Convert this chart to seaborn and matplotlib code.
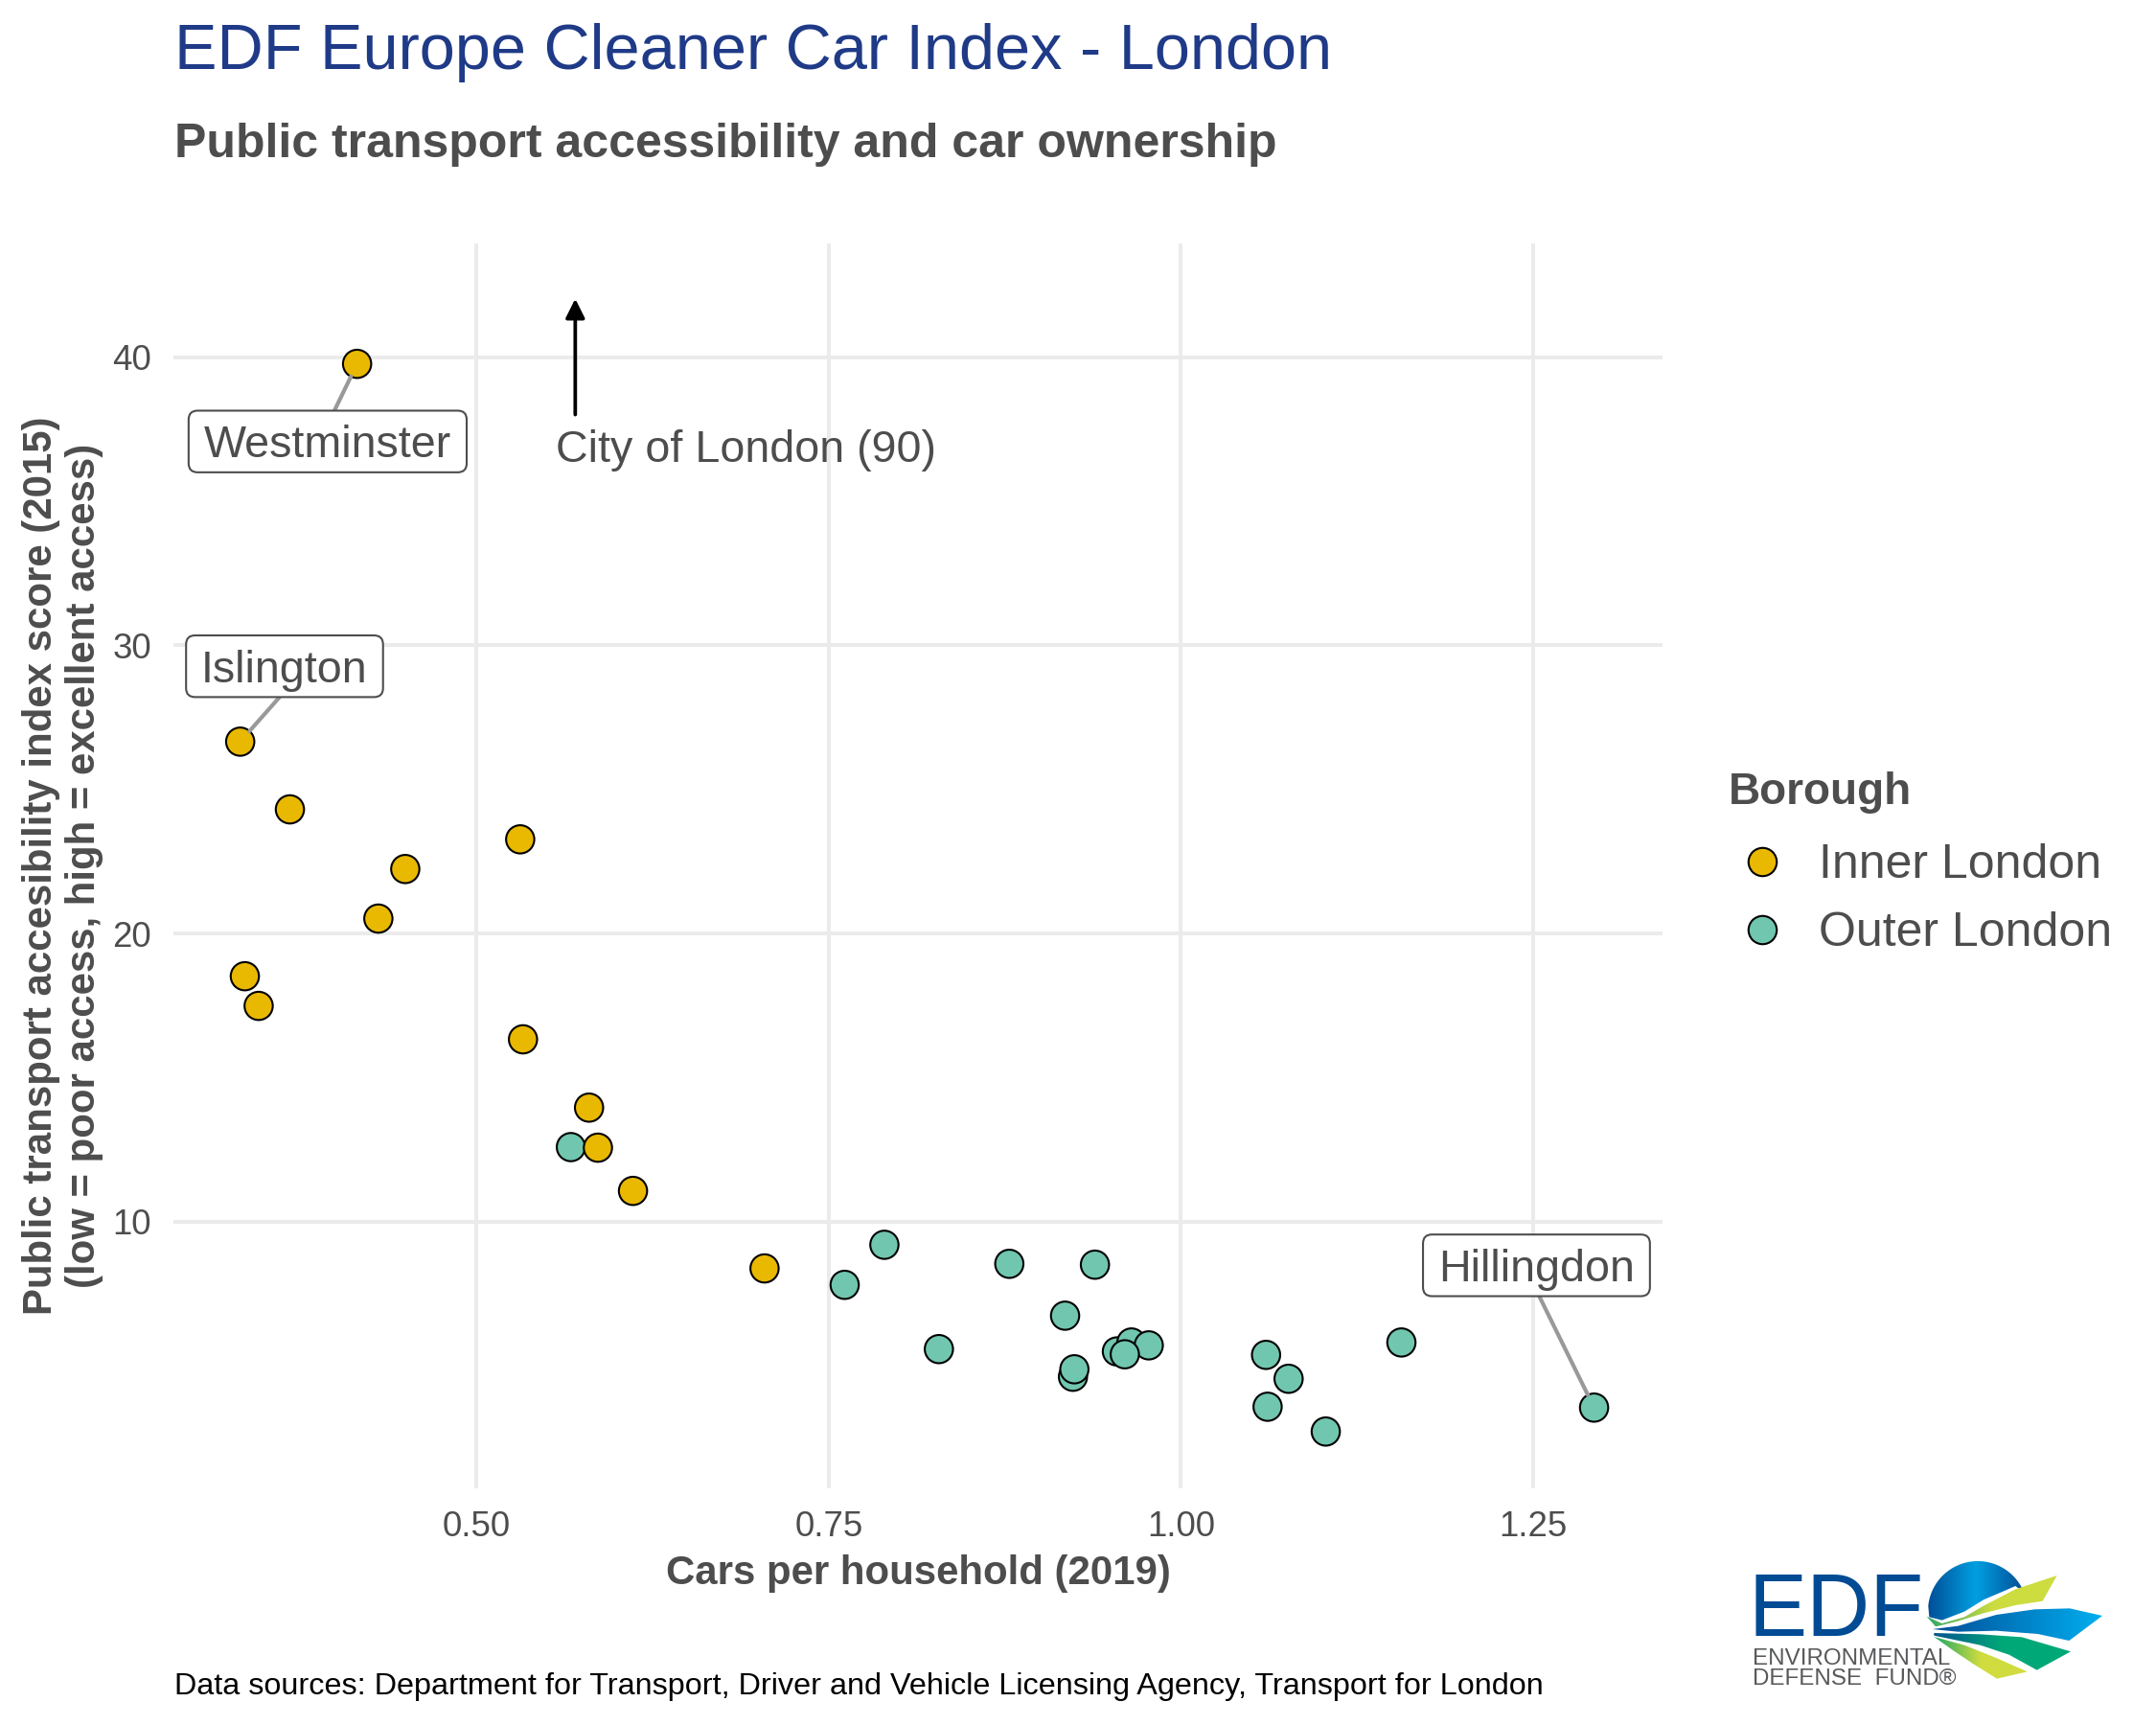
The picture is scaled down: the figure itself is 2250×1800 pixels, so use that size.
import matplotlib
matplotlib.use("Agg")
import matplotlib.pyplot as plt
import numpy as np
import pandas as pd
import seaborn as sns
from matplotlib.colors import LinearSegmentedColormap
from matplotlib.patches import BoxStyle, Polygon

# values
inner_x = [0.3674, 0.5309, 0.4493, 0.4302, 0.3354, 0.3452, 0.5329, 0.5798, 0.5861, 0.611, 0.7044, 0.4151, 0.3321]
inner_y = [24.31, 23.27, 22.24, 20.52, 18.52, 17.49, 16.33, 13.96, 12.57, 11.07, 8.38, 39.77, 26.66]
outer_x = [0.5669, 0.7895, 0.7613, 0.8782, 0.939, 0.9178, 0.9546, 0.9649, 0.9772, 0.9602,
           0.9234, 0.9244, 1.0605, 1.0765, 1.0616, 1.1029, 1.1566, 1.2934, 0.8282]
outer_y = [12.59, 9.2, 7.81, 8.54, 8.51, 6.74, 5.5, 5.81, 5.71, 5.4,
           4.62, 4.88, 5.38, 4.55, 3.58, 2.72, 5.81, 3.55, 5.58]

label_names = ["Westminster", "Islington", "Hillingdon"]
label_points = [(0.4151, 39.77), (0.3321, 26.66), (1.2934, 3.55)]
label_places = [(0.3942, 37.1), (0.3636, 29.3), (1.2525, 8.51)]
label_sides = [1, 0, 0]  # which edge of the box the segment leaves from

x_ticks = [0.5, 0.75, 1.0, 1.25]
y_ticks = [10, 20, 30, 40]

GREY = "#4D4D4D"
W, H = 2250, 1800

sns.set_theme(
    style="whitegrid",
    rc={
        "axes.spines.left": False,
        "axes.spines.right": False,
        "axes.spines.top": False,
        "axes.spines.bottom": False,
        "grid.color": "#EBEBEB",
        "grid.linewidth": 0.95,
        "xtick.bottom": False,
        "ytick.left": False,
    },
)
plt.rcParams["font.family"] = ["Liberation Sans", "DejaVu Sans"]


def fx(px):
    return px / W


def fy(px):
    return 1 - px / H


# text extents leave room for descenders, the label boxes in the chart do not
class LabelBox(BoxStyle.Round):
    def __call__(self, x0, y0, width, height, mutation_size):
        return super().__call__(x0 - 2.9, y0 + 7.2, width + 5.8, height - 5.8, mutation_size)


df = pd.concat([
    pd.DataFrame({"x": outer_x, "y": outer_y, "Borough": "Outer London"}),
    pd.DataFrame({"x": inner_x, "y": inner_y, "Borough": "Inner London"}),
])

fig = plt.figure(figsize=(7.5, 6), dpi=300)
ax = fig.add_axes([fx(181), fy(1553), fx(1735 - 181), (1553 - 254) / H])

sns.scatterplot(
    df, x="x", y="y", hue="Borough",
    hue_order=["Inner London", "Outer London"],
    palette=["#E9B800", "#70C6AF"],
    s=50, edgecolor="black", linewidth=0.5, ax=ax, zorder=3,
)

ax.set_xlim(0.2847, 1.342)
ax.set_ylim(0.75, 43.95)
ax.set_xticks(x_ticks, [f"{t:.2f}" for t in x_ticks])
ax.set_yticks(y_ticks, [str(t) for t in y_ticks])
ax.tick_params(axis="both", labelsize=8.8, labelcolor=GREY, pad=-0.5)
ax.set_xlabel("Cars per household (2019)", fontsize=10.1, fontweight="bold", color=GREY)
ax.set_ylabel("Public transport accesibility index score (2015)\n(low = poor access, high = excellent access)",
              fontsize=10.1, fontweight="bold", color=GREY, linespacing=1.15)
ax.xaxis.set_label_coords(0.5, -0.053)
ax.yaxis.set_label_coords(-0.0472, 0.5)

# labelled boroughs
for name, point, place, side in zip(label_names, label_points, label_places, label_sides):
    ax.annotate(
        name, xy=point, xytext=place, ha="center", va="center_baseline",
        fontsize=11.2, color=GREY, zorder=4,
        bbox=dict(boxstyle=LabelBox(pad=0.28, rounding_size=0.2), fc="white", ec=GREY, lw=0.5),
        arrowprops=dict(arrowstyle="-", color="#999999", lw=1.0, shrinkA=0, shrinkB=3.5,
                        relpos=(0.5, side)),
    )

# City of London is off the scale
ax.annotate("", xy=(0.57, 42.03), xytext=(0.57, 38.01),
            arrowprops=dict(arrowstyle="-|>,head_length=0.4,head_width=0.2", color="black",
                            lw=0.9, mutation_scale=10, shrinkA=0, shrinkB=0))
ax.text(0.556, 36.93, "City of London (90)", fontsize=11.2, color=GREY, ha="left", va="center_baseline")

# legend
sns.move_legend(ax, "upper left", bbox_to_anchor=(fx(1759), fy(760)), bbox_transform=fig.transFigure,
                frameon=False, fontsize=12, title="Borough", labelspacing=0.5, handlelength=1.38,
                handletextpad=0.49)
leg = ax.get_legend()
leg._legend_box.align = "left"
leg._legend_box.sep += 1.5
leg.get_title().set_color(GREY)
leg.get_title().set_fontsize(11)
leg.get_title().set_fontweight("bold")
for t in leg.get_texts():
    t.set_color(GREY)

# titles and caption
fig.text(fx(182), fy(72), "EDF Europe Cleaner Car Index - London", fontsize=16, color="#1F3A87", va="baseline")
fig.text(fx(182), fy(164), "Public transport accessibility and car ownership", fontsize=12,
         fontweight="bold", color=GREY, va="baseline")
fig.text(fx(182), fy(1768), "Data sources: Department for Transport, Driver and Vehicle Licensing Agency, Transport for London",
         fontsize=7.77, color="black", va="baseline")

# logo, drawn in a small axes over the bottom right corner
logo = fig.add_axes([fx(1750), fy(1800), fx(500), 220 / H], zorder=5)
logo.set_xlim(0, 1500)
logo.set_ylim(660, 0)
logo.axis("off")


def shaded(points, *stops):
    cmap = LinearSegmentedColormap.from_list("band", stops)
    xs = [p[0] for p in points]
    ys = [p[1] for p in points]
    im = logo.imshow(np.linspace(0, 1, 64).reshape(1, -1), cmap=cmap, aspect="auto",
                     extent=(min(xs), max(xs), max(ys), min(ys)))
    patch = Polygon(points, closed=True, fc="none", ec="none")
    logo.add_patch(patch)
    im.set_clip_path(patch)


arc = np.radians(np.linspace(186, 338, 40))
dome = [(942 + 156 * np.cos(a), 303 + 156 * np.sin(a)) for a in arc]
dome += [(1060, 225), (960, 268), (900, 305), (830, 332), (790, 322)]
shaded(dome, "#004F98", "#00A0E0", "#004F98")
shaded([(782, 320), (830, 342), (900, 322), (960, 287), (1060, 235), (1190, 192), (1145, 272),
        (1060, 285), (960, 310), (880, 335), (810, 352)], "#2FA868", "#CDDC3F", "#CDDC3F")
shaded([(800, 360), (880, 350), (1000, 315), (1120, 298), (1230, 295), (1332, 318), (1228, 396),
        (1130, 375), (1000, 365), (880, 368)], "#004F98", "#00AEEF")
shaded([(805, 372), (950, 376), (1080, 385), (1233, 430), (1127, 488), (1040, 440), (950, 410),
        (805, 380)], "#00568F", "#00A878", "#00A878")
shaded([(805, 384), (900, 410), (1000, 450), (1097, 493), (1002, 515), (930, 470), (870, 430)],
       "#1FA866", "#D0DC3F", "#D0DC3F")
logo.set_xlim(0, 1500)
logo.set_ylim(660, 0)

logo.text(224, 382, "EDF", fontsize=22, color="#004B93", va="baseline", ha="left")
logo.text(237, 535, "ENVIRONMENTAL\nDEFENSE  FUND®", fontsize=5.8, color="#58595B",
          va="baseline", ha="left", linespacing=0.97)

fig.savefig("out.png", dpi=300, facecolor="white")
